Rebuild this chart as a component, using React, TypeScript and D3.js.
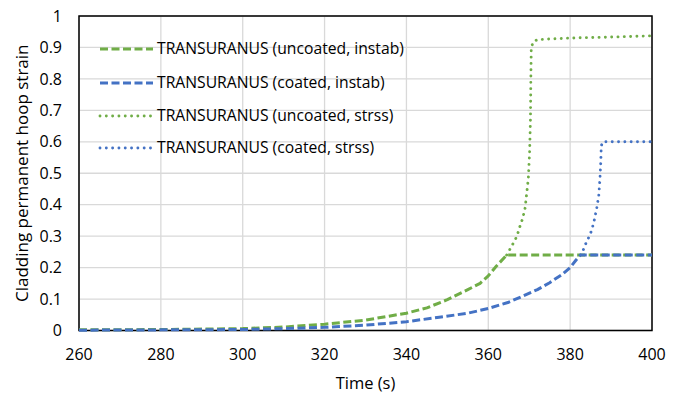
import React from "react";
import * as d3 from "d3";

const uncoatedInstabT = [260, 280, 300, 310, 320, 330, 340, 345, 350, 355, 358, 360, 362, 364.5, 400];
const uncoatedInstabV = [0.002, 0.003, 0.006, 0.011, 0.02, 0.033, 0.055, 0.072, 0.098, 0.13, 0.15, 0.174, 0.205, 0.24, 0.24];

const coatedInstabT = [260, 280, 300, 310, 320, 330, 340, 348, 355, 360, 365, 368, 372, 375, 378, 380, 381.5, 382.5, 400];
const coatedInstabV = [0.001, 0.002, 0.003, 0.006, 0.01, 0.017, 0.028, 0.042, 0.055, 0.07, 0.09, 0.107, 0.13, 0.152, 0.178, 0.2, 0.225, 0.24, 0.24];

const uncoatedStrssT = [364.5, 366, 367, 367.9, 368.4, 369, 369.5, 369.8, 370.1, 370.3, 370.4, 370.5, 371, 372, 380, 390, 400];
const uncoatedStrssV = [0.24, 0.275, 0.3, 0.338, 0.356, 0.39, 0.449, 0.487, 0.569, 0.67, 0.8, 0.9, 0.918, 0.925, 0.93, 0.933, 0.937];

const coatedStrssT = [382.5, 383.2, 384, 384.7, 385.3, 385.9, 386.5, 387, 387.3, 387.5, 387.6, 388, 400];
const coatedStrssV = [0.24, 0.256, 0.282, 0.3, 0.32, 0.351, 0.389, 0.43, 0.486, 0.54, 0.587, 0.6, 0.6];

const seriesNames = [
  "TRANSURANUS (uncoated, instab)",
  "TRANSURANUS (coated, instab)",
  "TRANSURANUS (uncoated, strss)",
  "TRANSURANUS (coated, strss)",
];

const xTicks = [260, 280, 300, 320, 340, 360, 380, 400];
const yTicks = [0, 0.1, 0.2, 0.3, 0.4, 0.5, 0.6, 0.7, 0.8, 0.9, 1];

const GREEN = "#70AD47";
const BLUE = "#4472C4";
const FONT = "'Open Sans', 'Noto Sans', sans-serif";

export default function App() {
  const W = 680, H = 397;
  const left = 79, right = 652, top = 16, bottom = 330.5;
  const x = d3.scaleLinear().domain([260, 400]).range([left, right]);
  const y = d3.scaleLinear().domain([0, 1]).range([bottom, top]);
  const line = d3.line<[number, number]>().x((d) => x(d[0])).y((d) => y(d[1]));

  const zip = (t: number[], v: number[]) => t.map((tt, i) => [tt, v[i]] as [number, number]);

  const series = [
    { name: seriesNames[0], data: zip(uncoatedInstabT, uncoatedInstabV), color: GREEN, dotted: false },
    { name: seriesNames[1], data: zip(coatedInstabT, coatedInstabV), color: BLUE, dotted: false },
    { name: seriesNames[2], data: zip(uncoatedStrssT, uncoatedStrssV), color: GREEN, dotted: true },
    { name: seriesNames[3], data: zip(coatedStrssT, coatedStrssV), color: BLUE, dotted: true },
  ];

  const style = (s: { color: string; dotted: boolean }) =>
    s.dotted
      ? { stroke: s.color, strokeWidth: 2.9, strokeDasharray: "0.01 6.3", strokeLinecap: "round" as const }
      : { stroke: s.color, strokeWidth: 3, strokeDasharray: "8 3.5", strokeLinecap: "butt" as const };

  const legendY = [49, 83, 116, 148];

  return (
    <div style={{ position: "absolute", left: 0, top: 0 }}>
      <svg width={W} height={H} style={{ display: "block", background: "#fff" }}>
        {yTicks.map((t) => (
          <line key={"gy" + t} x1={left} x2={right} y1={y(t)} y2={y(t)} stroke="#d9d9d9" strokeWidth={1.3} />
        ))}
        {xTicks.map((t) => (
          <line key={"gx" + t} x1={x(t)} x2={x(t)} y1={top} y2={bottom} stroke="#d9d9d9" strokeWidth={1.3} />
        ))}
        <rect x={left} y={top} width={right - left} height={bottom - top} fill="none" stroke="#000" strokeWidth={1.5} />
        {series.map((s) => (
          <path key={s.name} d={line(s.data) || ""} fill="none" {...style(s)} strokeLinejoin="round" />
        ))}
        {yTicks.map((t) => (
          <text key={"ty" + t} x={62} y={y(t)} dy="0.35em" textAnchor="end" fontFamily={FONT} fontSize={16} fill="#000">
            {d3.format("~g")(t)}
          </text>
        ))}
        {xTicks.map((t) => (
          <text key={"tx" + t} x={x(t)} y={360} textAnchor="middle" fontFamily={FONT} fontSize={16} fill="#000">
            {t}
          </text>
        ))}
        <text x={(left + right) / 2} y={389} textAnchor="middle" fontFamily={FONT} fontSize={16.5} fill="#000">
          Time (s)
        </text>
        <text
          transform={`translate(28, ${(top + bottom) / 2}) rotate(-90)`}
          textAnchor="middle"
          fontFamily={FONT}
          fontSize={17}
          fill="#000"
        >
          Cladding permanent hoop strain
        </text>
        {series.map((s, i) => (
          <g key={"lg" + i}>
            <line x1={100} x2={153} y1={legendY[i]} y2={legendY[i]} fill="none" {...style(s)} />
            <text x={157} y={legendY[i]} dy="0.35em" fontFamily={FONT} fontSize={15.7} fill="#000">
              {s.name}
            </text>
          </g>
        ))}
      </svg>
    </div>
  );
}
